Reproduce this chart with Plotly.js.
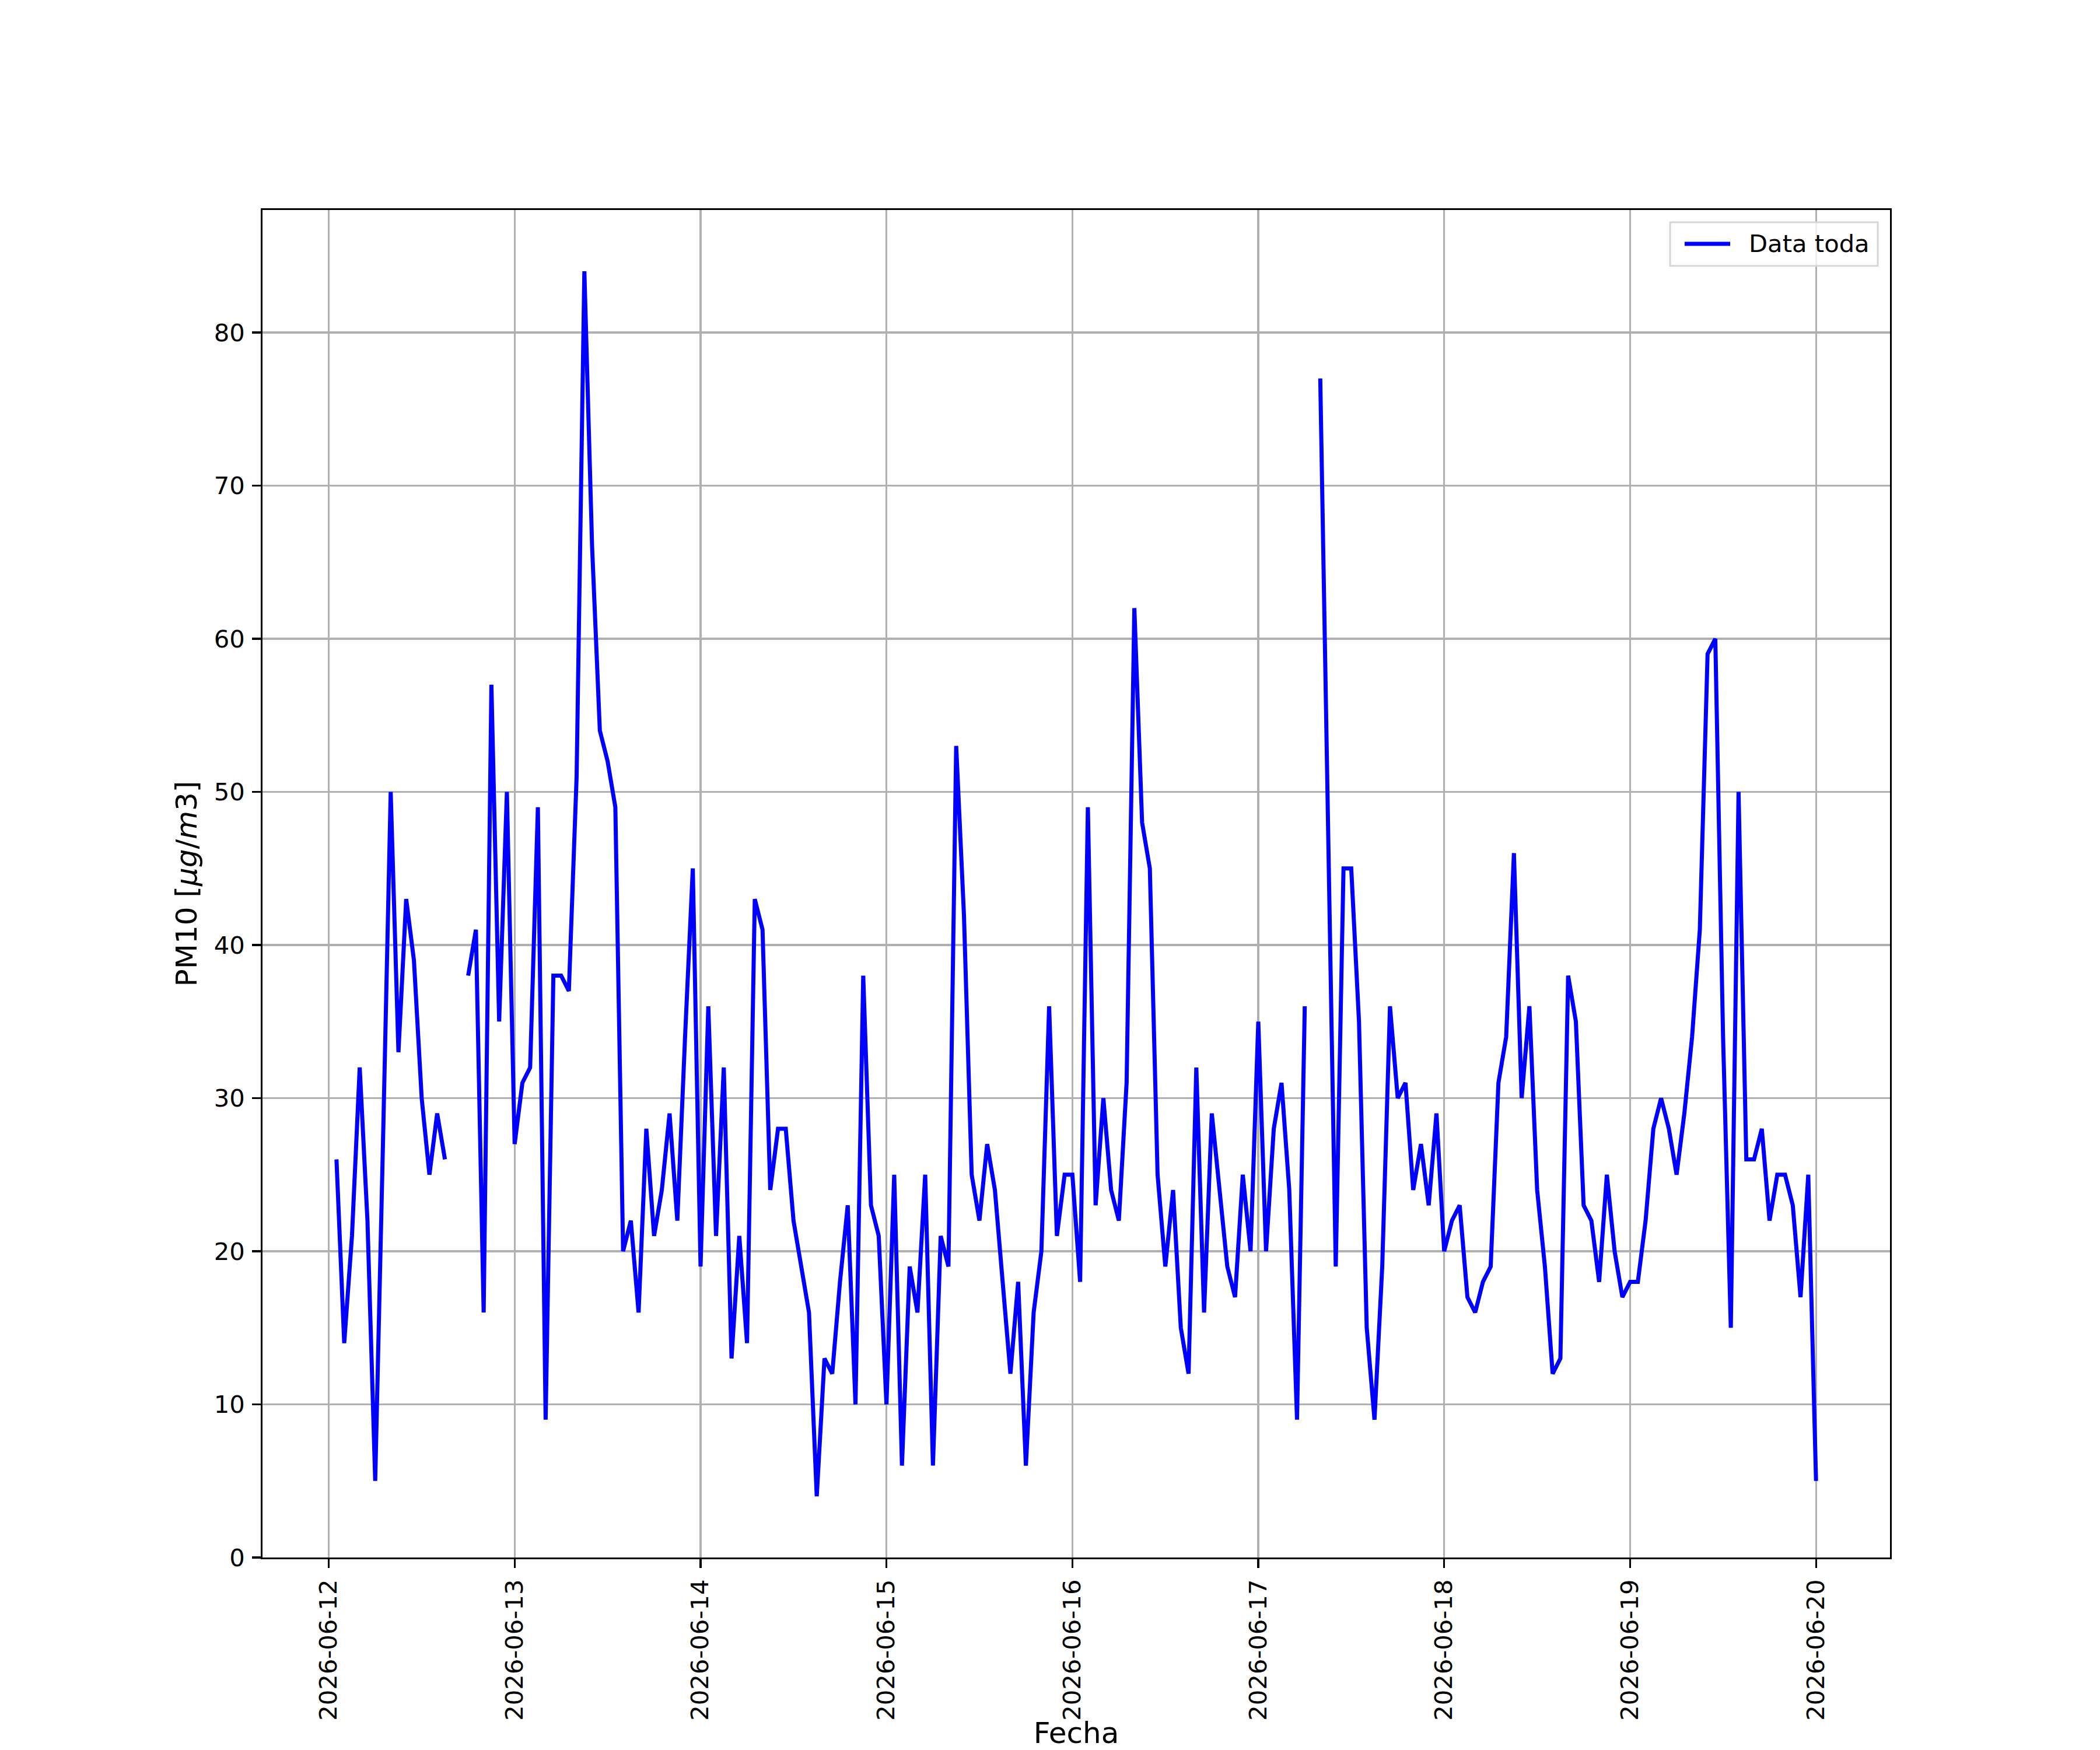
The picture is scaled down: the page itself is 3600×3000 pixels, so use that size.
<!DOCTYPE html>
<html>
<head>
<meta charset="utf-8">
<script src="https://cdn.plot.ly/plotly-3.0.1.min.js"></script>
<style>html,body{margin:0;padding:0;background:#fff;}#chart{width:3600px;height:3000px;}</style>
</head>
<body>
<div id="chart"></div>
<script>
// Hourly PM10 readings, series starts 2026-06-12 01:00 (null = missing hour)
const startTime = '2026-06-12T01:00:00Z';
const day12 = [26,14,21,32,22,5,27,50,33,43,39,30,25,29,26,null,null,38,41,16,57,35,50];
const day13 = [27,31,32,49,9,38,38,37,51,84,66,54,52,49,20,22,16,28,21,24,29,22,34,45];
const day14 = [19,36,21,32,13,21,14,43,41,24,28,28,22,19,16,4,13,12,18,23,10,38,23,21];
const day15 = [10,25,6,19,16,25,6,21,19,53,42,25,22,27,24,18,12,18,6,16,20,36,21,25];
const day16 = [25,18,49,23,30,24,22,31,62,48,45,25,19,24,15,12,32,16,29,24,19,17,25,20];
const day17 = [35,20,28,31,24,9,36,null,77,48,19,45,45,35,15,9,19,36,30,31,24,27,23,29];
const day18 = [20,22,23,17,16,18,19,31,34,46,30,36,24,19,12,13,38,35,23,22,18,25,20,17];
const day19 = [18,18,22,28,30,28,25,29,34,41,59,60,34,15,50,26,26,28,22,25,25,23,17,25];
const day20 = [5];
const yTicks = [0,10,20,30,40,50,60,70,80];
const seriesName = 'Data toda';
const xLabel = 'Fecha';
const yLabel = 'PM10 [<i>μg</i>/<i>m</i>3]';

const pm10 = [].concat(day12, day13, day14, day15, day16, day17, day18, day19, day20);
const HOUR = 3600000;
const t0 = Date.parse(startTime);
const times = pm10.map((v, i) => t0 + i * HOUR);
const tFirst = times[0], tLast = times[times.length - 1];
const pad = 0.05 * (tLast - tFirst);
const vals = pm10.filter(v => v !== null);
const vmin = Math.min(...vals), vmax = Math.max(...vals);
const vpad = 0.05 * (vmax - vmin);

const FONT = 'DejaVu Sans, Liberation Sans, sans-serif';
const LINE_COLOR = '#0000ff';
const LINE_W = 7;
const trace = {
  x: times, y: pm10, type: 'scatter', mode: 'lines', name: seriesName,
  line: {color: LINE_COLOR, width: LINE_W}, connectgaps: false, showlegend: false
};

// matplotlib-style legend box (upper right), in plot-area (paper) fractions
const legendShapes = [
  {type: 'rect', xref: 'paper', yref: 'paper', x0: 0.8649, x1: 0.9925, y0: 0.9585, y1: 0.9909,
   line: {color: '#d6d6d6', width: 3}, fillcolor: 'rgba(255,255,255,0.8)', layer: 'above'},
  {type: 'line', xref: 'paper', yref: 'paper', x0: 0.8738, x1: 0.9018, y0: 0.9749, y1: 0.9749,
   line: {color: LINE_COLOR, width: LINE_W}, layer: 'above'}
];
const legendText = {
  xref: 'paper', yref: 'paper', x: 0.9125, y: 0.9749, xanchor: 'left', yanchor: 'middle',
  text: seriesName, showarrow: false, font: {family: FONT, size: 41.7, color: '#000'}
};

const layout = {
  width: 3600, height: 3000,
  paper_bgcolor: '#ffffff', plot_bgcolor: '#ffffff',
  margin: {l: 450, r: 360, t: 360, b: 330, pad: 0},
  font: {family: FONT, size: 41.7, color: '#000'},
  showlegend: false,
  shapes: legendShapes,
  annotations: [legendText],
  xaxis: {
    type: 'date',
    range: [tFirst - pad, tLast + pad],
    tick0: '2026-06-12', dtick: 86400000, tickformat: '%Y-%m-%d',
    tickangle: -90,
    showgrid: true, gridcolor: '#b0b0b0', gridwidth: 3.3,
    showline: true, mirror: true, linecolor: '#000', linewidth: 3.3,
    ticks: 'outside', ticklen: 14.6, tickwidth: 3.3, tickcolor: '#000',
    ticklabelstandoff: 3,
    zeroline: false, automargin: false,
    tickfont: {family: FONT, size: 41.7, color: '#000'},
    title: {text: xLabel, font: {family: FONT, size: 50, color: '#000'}, standoff: 12}
  },
  yaxis: {
    range: [vmin - vpad, vmax + vpad],
    tickvals: yTicks,
    showgrid: true, gridcolor: '#b0b0b0', gridwidth: 3.3,
    showline: true, mirror: true, linecolor: '#000', linewidth: 3.3,
    ticks: 'outside', ticklen: 14.6, tickwidth: 3.3, tickcolor: '#000',
    ticklabelstandoff: 4,
    zeroline: false, automargin: false,
    tickfont: {family: FONT, size: 41.7, color: '#000'},
    title: {text: yLabel, font: {family: FONT, size: 50, color: '#000'}, standoff: 14}
  }
};
Plotly.newPlot('chart', [trace], layout, {staticPlot: true, displayModeBar: false});
</script>
</body>
</html>
